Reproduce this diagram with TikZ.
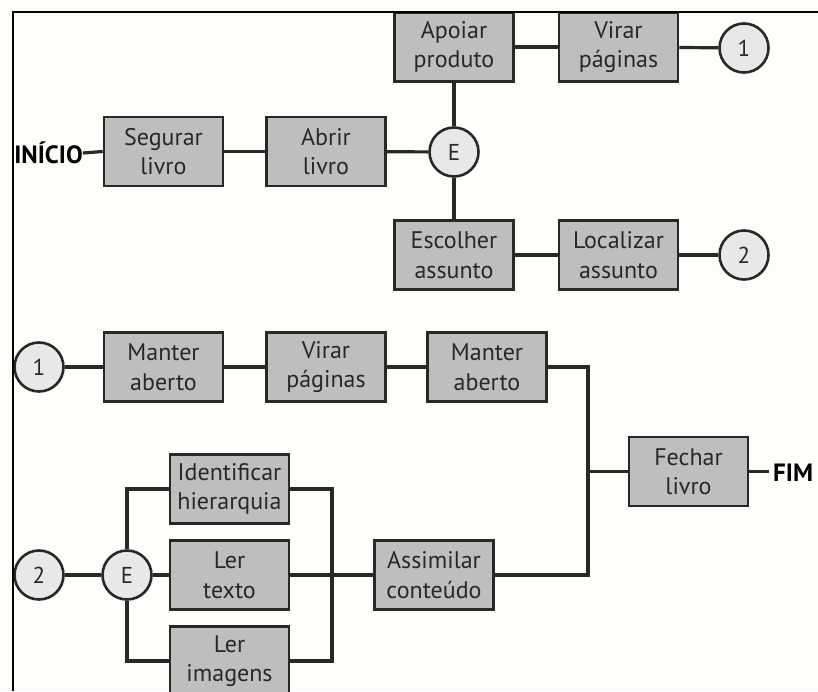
\documentclass[tikz,border=0pt]{standalone}
\usepackage{fontspec}
\setmainfont{PT Sans}
\definecolor{boxgray}{RGB}{190,190,190}
\definecolor{circgray}{RGB}{232,232,232}
\definecolor{ink}{RGB}{40,40,40}
\definecolor{bg}{RGB}{253,253,250}
\begin{document}
\begin{tikzpicture}[x=1pt,y=-1pt,
  box/.style={draw=ink, line width=2.6pt, fill=boxgray, minimum width=119pt, minimum height=69pt,
    align=center, inner sep=0pt, text=ink, font=\fontsize{24}{29.5}\selectfont},
  circ/.style={circle, draw=ink, line width=2.6pt, fill=circgray, minimum size=49pt, inner sep=0pt,
    text=ink, font=\fontsize{23}{29}\selectfont},
  conn/.style={draw=ink, line width=3.2pt},
  term/.style={inner sep=0pt, text=black, font=\fontsize{25}{29}\selectfont\bfseries}]
\useasboundingbox (0,0) rectangle (818,691);
\clip (0,0) rectangle (818,691);
\fill[bg] (0,0) rectangle (818,691);
% top part
\node[box] (seg) at (163.5,151.5) {Segurar\\livro};
\node[box] (abr) at (326,151.5) {Abrir\\livro};
\node[circ] (E1) at (454,152) {E};
\node[box] (apo) at (454,47) {Apoiar\\produto};
\node[box] (vir1) at (618.5,47) {Virar\\páginas};
\node[circ] (c1a) at (744,48) {1};
\node[box] (esc) at (454,255) {Escolher\\assunto};
\node[box] (loc) at (618.5,255) {Localizar\\assunto};
\node[circ] (c2a) at (744,255) {2};
\begin{scope}
\clip (14,100) rectangle (200,200);
\node[term, anchor=east] (ini) at (83,153) {INÍCIO};
\end{scope}
% middle row
\node[circ] (c1b) at (39,367) {1};
\node[box] (man1) at (163.5,367) {Manter\\aberto};
\node[box] (vir2) at (326,367) {Virar\\páginas};
\node[box] (man2) at (487,367) {Manter\\aberto};
\node[box] (fech) at (688.5,471.5) {Fechar\\livro};
\node[term, anchor=west] (fim) at (773,473) {FIM};
% bottom
\node[circ] (c2b) at (39,575) {2};
\node[circ] (E2) at (127,575) {E};
\node[box] (idh) at (229.5,489) {Identificar\\hierarquia};
\node[box] (lt) at (229.5,575) {Ler\\texto};
\node[box] (li) at (229.5,661) {Ler\\imagens};
\node[box] (ass) at (434,575) {Assimilar\\conteúdo};
\coordinate (mB) at (332,575);
\coordinate (mR) at (588,471.5);
% connectors
\begin{scope}[on background layer/.style={}]
\end{scope}
\draw[conn] (ini.east) -- (seg.west);
\draw[conn] (seg) -- (abr);
\draw[conn] (abr) -- (E1);
\draw[conn] (E1) -- (apo);
\draw[conn] (E1) -- (esc);
\draw[conn] (apo) -- (vir1);
\draw[conn] (vir1) -- (c1a);
\draw[conn] (esc) -- (loc);
\draw[conn] (loc) -- (c2a);
\draw[conn] (c1b) -- (man1);
\draw[conn] (man1) -- (vir2);
\draw[conn] (vir2) -- (man2);
\draw[conn] (man2.east) -| (mR) -- (fech.west);
\draw[conn] (ass.east) -| (mR);
\draw[conn] (fech.east) -- ++(20,0);
\draw[conn] (c2b) -- (E2);
\draw[conn] (E2) -- (lt);
\draw[conn] (E2.north) |- (idh.west);
\draw[conn] (E2.south) |- (li.west);
\draw[conn] (idh.east) -| (mB);
\draw[conn] (li.east) -| (mB);
\draw[conn] (lt.east) -- (ass.west);
% frame
\draw[line width=2.2pt, black] (13,691) -- (13,12) -- (818,12);
\end{tikzpicture}
\end{document}
